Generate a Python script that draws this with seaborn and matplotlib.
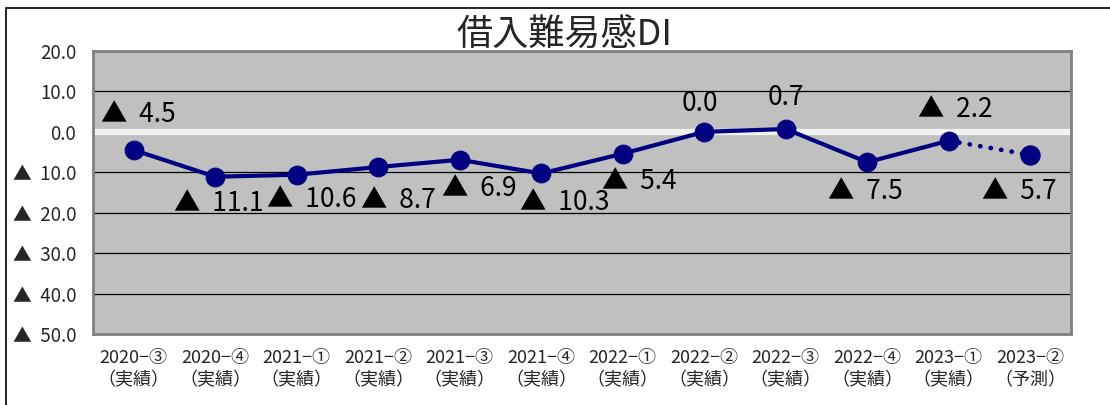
import matplotlib
matplotlib.use("Agg")
import matplotlib.pyplot as plt
import matplotlib.patches as mpatches
import seaborn as sns
import pandas as pd
import numpy as np

categories = ["2020−③\n（実績）", "2020−④\n（実績）", "2021−①\n（実績）", "2021−②\n（実績）",
              "2021−③\n（実績）", "2021−④\n（実績）", "2022−①\n（実績）", "2022−②\n（実績）",
              "2022−③\n（実績）", "2022−④\n（実績）", "2023−①\n（実績）", "2023−②\n（予測）"]
values = [-4.5, -11.1, -10.6, -8.7, -6.9, -10.3, -5.4, 0.0, 0.7, -7.5, -2.2, -5.7]
is_forecast = [False] * 11 + [True]
yticks = [20, 10, 0, -10, -20, -30, -40, -50]
title = "借入難易感DI"

def fmt(v, gap=" "):
    if v < 0:
        return "▲" + gap + f"{abs(v):.1f}"
    return f"{v:.1f}"

sns.set_theme(style="white")
plt.rcParams['font.family'] = ['Noto Sans CJK JP', 'DejaVu Sans']

fig = plt.figure(figsize=(11.1, 4.05), dpi=100)
ax = fig.add_axes([93/1110, 1-334/405, (1071-93)/1110, (334-51)/405])

df = pd.DataFrame({"x": np.arange(len(values)), "y": values})
navy = "#000080"
n_act = sum(1 for f in is_forecast if not f)
sns.lineplot(data=df.iloc[:n_act], x="x", y="y", ax=ax, color=navy, lw=3,
             marker="o", markersize=13.5, markeredgecolor=navy, zorder=5)
sns.lineplot(data=df.iloc[n_act-1:], x="x", y="y", ax=ax, color=navy, lw=3.4,
             linestyle=(0, (0.05, 2.2)), dash_capstyle="round", zorder=4)
sns.scatterplot(data=df.iloc[n_act:], x="x", y="y", ax=ax, color=navy, s=185,
                edgecolor=navy, zorder=5)

ax.set_facecolor("#C0C0C0")
ax.set_xlim(-0.5, len(values) - 0.5)
ax.set_ylim(-50, 20)
ax.set_yticks(yticks)
ax.set_yticklabels([fmt(v, "  ") for v in yticks], fontsize=13.5)
for v in yticks:
    if v == 0:
        ax.axhline(v, color="#F2F2F2", lw=4.5, zorder=2)
    elif v not in (20, -50):
        ax.axhline(v, color="#000000", lw=0.9, zorder=1)
ax.set_xticks(range(len(values)))
ax.set_xticklabels(categories, fontsize=13, linespacing=1.3)
ax.tick_params(axis="y", length=0, pad=12)
ax.tick_params(axis="x", length=0, pad=11)
ax.set_xlabel("")
ax.set_ylabel("")
for s in ax.spines.values():
    s.set_color("#808080")
    s.set_linewidth(2)

# label offsets in pixels (x right, y up)
dx = [5, 4, 15, 20, 19, 23, 17, -4, 0, -2, 7, -11]
dy = [36, -27, -25, -33, -29, -29, -28, 28, 32, -29, 31, -37]
for i, v in enumerate(values):
    ax.annotate(fmt(v, "  "), (i, v), xytext=(dx[i], dy[i]), textcoords="offset pixels",
                ha="center", va="center", fontsize=19, color="#000000", zorder=6)

fig.text(564/1110, 1-36/405, title, ha="center", va="center", fontsize=26)
fig.patches.append(mpatches.Rectangle((6/1110, -0.1), 1.2, 1.1 - 8/405, transform=fig.transFigure,
                                      fill=False, edgecolor="black", lw=1.2))
fig.savefig("out.png", dpi=100)
